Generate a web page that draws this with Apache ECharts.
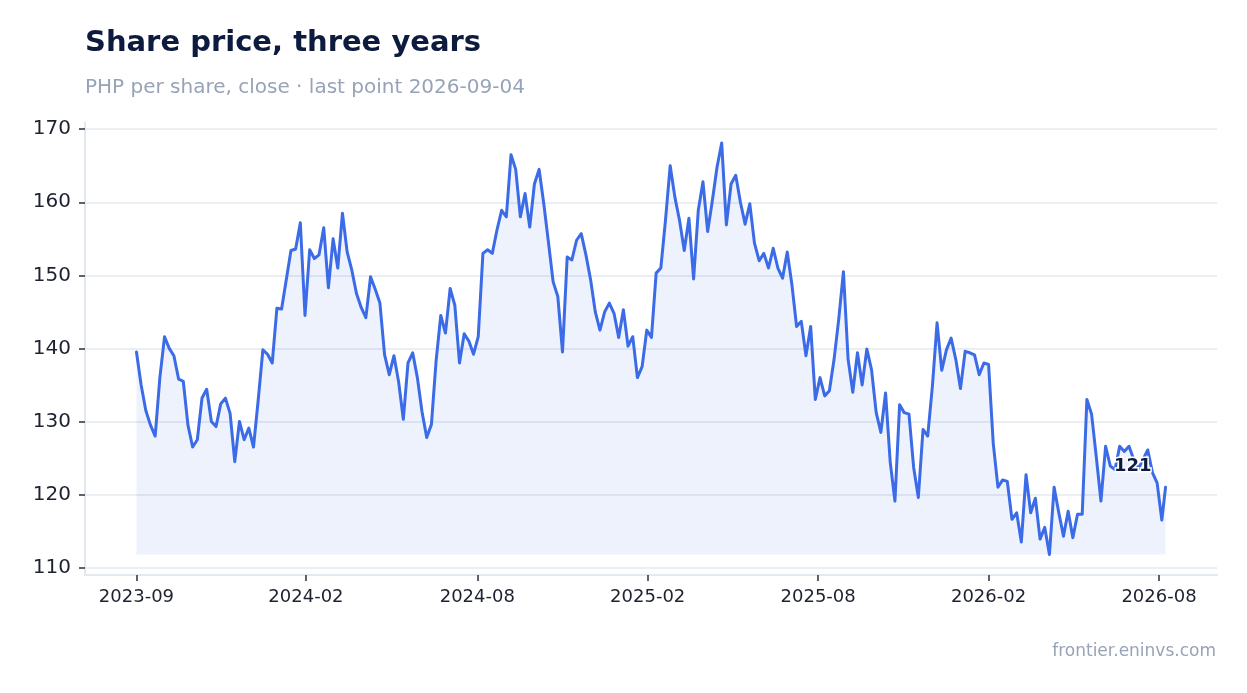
<!DOCTYPE html>
<html>
<head>
<meta charset="utf-8">
<title>Share price, three years</title>
<script src="https://cdn.jsdelivr.net/npm/echarts@6.0.0/dist/echarts.min.js"></script>
<style>
  html, body { margin: 0; padding: 0; background: #ffffff; }
  #chart { width: 1247px; height: 693px; }
</style>
</head>
<body>
<div id="chart"></div>
<script>
// closes, one every 5 calendar days from startDate, last one on lastDate
var startDate = '2023-09-01';
var lastDate = '2026-09-04';
var stepDays = 5;
var closes = [
    139.5, 135.0, 131.5, 129.5, 128.0, 136.0, 141.6, 140.0, 139.0, 135.8,
    135.5, 129.5, 126.5, 127.5, 133.2, 134.4, 130.0, 129.3, 132.4, 133.2,
    131.1, 124.5, 130.0, 127.5, 129.1, 126.5, 132.9, 139.8, 139.2, 138.0,
    145.5, 145.4, 149.4, 153.4, 153.6, 157.2, 144.5, 153.5, 152.3, 152.8,
    156.5, 148.3, 155.0, 151.0, 158.5, 153.2, 150.7, 147.5, 145.6, 144.2,
    149.8, 148.1, 146.2, 139.1, 136.4, 139.0, 135.4, 130.3, 138.0, 139.4,
    136.0, 131.3, 127.8, 129.6, 138.3, 144.5, 142.1, 148.2, 145.9, 138.0,
    142.0, 141.0, 139.2, 141.6, 153.0, 153.5, 153.0, 156.2, 158.9, 158.0,
    166.5, 164.5, 158.0, 161.2, 156.6, 162.5, 164.5, 159.8, 154.5, 149.1,
    147.1, 139.5, 152.5, 152.1, 154.8, 155.7, 152.8, 149.4, 145.0, 142.5,
    145.0, 146.2, 144.8, 141.5, 145.3, 140.3, 141.6, 136.0, 137.5, 142.5,
    141.5, 150.3, 151.0, 157.6, 165.0, 160.7, 157.5, 153.4, 157.8, 149.5,
    158.9, 162.8, 156.0, 160.2, 164.8, 168.1, 156.9, 162.5, 163.7, 160.0,
    157.0, 159.8, 154.4, 152.0, 153.0, 151.0, 153.7, 151.0, 149.6, 153.2,
    148.7, 143.0, 143.7, 139.0, 143.0, 133.0, 136.0, 133.5, 134.2, 138.5,
    144.0, 150.5, 138.5, 134.0, 139.4, 135.0, 139.9, 137.1, 131.2, 128.5,
    133.9, 124.4, 119.1, 132.3, 131.2, 131.0, 123.7, 119.6, 128.9, 128.0,
    134.8, 143.5, 137.0, 139.8, 141.4, 138.5, 134.5, 139.6, 139.4, 139.1,
    136.4, 138.0, 137.8, 127.0, 121.0, 122.0, 121.8, 116.6, 117.5, 113.5,
    122.7, 117.5, 119.5, 113.9, 115.5, 111.8, 121.0, 117.5, 114.3, 117.7,
    114.1, 117.3, 117.3, 133.0, 131.0, 125.2, 119.1, 126.6, 123.9, 123.4,
    126.6, 125.9, 126.6, 124.8, 123.5, 124.8, 126.1, 123.0, 121.6, 116.5,
    121.0
];
var tickDates = ['2023-09-01', '2024-02-29', '2024-08-30', '2025-02-28', '2025-08-29', '2026-02-27', '2026-08-28'];
var yTicks = [110, 120, 130, 140, 150, 160, 170];

var lineColor = '#3b6be6';
var gridColor = '#e4e8ef';
var labelColor = '#1e2230';
var mutedColor = '#98a3b7';
var fontFamily = 'DejaVu Sans';

function toTime(s, plusDays) {
    var p = s.split('-');
    return new Date(+p[0], +p[1] - 1, +p[2] + (plusDays || 0)).getTime();
}

var times = [];
for (var i = 0; i < closes.length; i++) {
    times.push(i < closes.length - 1 ? toTime(startDate, i * stepDays) : toTime(lastDate));
}

var seriesData = [];
for (var i = 0; i < closes.length; i++) {
    seriesData.push([times[i], closes[i]]);
}

var tMin = times[0], tMax = times[times.length - 1];
var tPad = (tMax - tMin) * 0.05;
var lo = Math.min.apply(null, closes), hi = Math.max.apply(null, closes);
var yPad = (hi - lo) * 0.05;

var tickTimes = tickDates.map(function (d) { return toTime(d); });

function monthLabel(v) {
    var d = new Date(v);
    var m = d.getMonth() + 1;
    return d.getFullYear() + '-' + (m < 10 ? '0' + m : m);
}

var chart = echarts.init(document.getElementById('chart'));

var option = {
    backgroundColor: '#ffffff',
    animation: false,
    title: [
        {
            text: 'Share price, three years',
            left: 85,
            top: 29,
            padding: 0,
            textStyle: { color: '#0d1b3e', fontFamily: fontFamily, fontWeight: 'bold', fontSize: 29 }
        },
        {
            text: 'PHP per share, close · last point ' + lastDate,
            left: 85,
            top: 78,
            padding: 0,
            textStyle: { color: mutedColor, fontFamily: fontFamily, fontWeight: 'normal', fontSize: 20 }
        },
        {
            text: 'frontier.eninvs.com',
            right: 31,
            top: 643,
            padding: 0,
            textStyle: { color: mutedColor, fontFamily: fontFamily, fontWeight: 'normal', fontSize: 17 }
        }
    ],
    grid: { left: 85, right: 30, top: 122.5, bottom: 118 },
    xAxis: {
        // timestamps on a plain value axis so the month ticks can be placed exactly
        type: 'value',
        min: tMin - tPad,
        max: tMax + tPad,
        axisLine: { show: true, lineStyle: { color: gridColor, width: 2 } },
        axisTick: { show: true, length: 6, lineStyle: { color: '#2a2f3a', width: 1.5 }, customValues: tickTimes },
        axisLabel: {
            customValues: tickTimes,
            formatter: monthLabel,
            color: labelColor,
            fontFamily: fontFamily,
            fontSize: 18,
            margin: 13
        },
        splitLine: { show: false }
    },
    yAxis: {
        type: 'value',
        min: lo - yPad,
        max: hi + yPad,
        axisLine: { show: true, lineStyle: { color: gridColor, width: 2 } },
        axisTick: { show: true, length: 6, lineStyle: { color: '#2a2f3a', width: 1.5 }, customValues: yTicks },
        axisLabel: {
            customValues: yTicks,
            color: labelColor,
            fontFamily: fontFamily,
            fontSize: 20,
            margin: 14
        },
        splitLine: { show: true, lineStyle: { color: gridColor, width: 1.5 } }
    },
    series: [
        {
            type: 'line',
            data: seriesData,
            showSymbol: false,
            symbol: 'none',
            lineStyle: { color: lineColor, width: 3, join: 'round', cap: 'round' },
            itemStyle: { color: lineColor },
            areaStyle: { color: lineColor, opacity: 0.09, origin: lo },
            // value label on the last close
            endLabel: {
                show: true,
                formatter: function (p) { return Math.round(p.value[1]); },
                distance: 0,
                align: 'right',
                verticalAlign: 'middle',
                offset: [-14, -21],
                color: '#0d1b3e',
                fontFamily: fontFamily,
                fontWeight: 'bold',
                fontSize: 18,
                textBorderColor: '#ffffff',
                textBorderWidth: 3
            },
            z: 3
        }
    ]
};

chart.setOption(option);
</script>
</body>
</html>
